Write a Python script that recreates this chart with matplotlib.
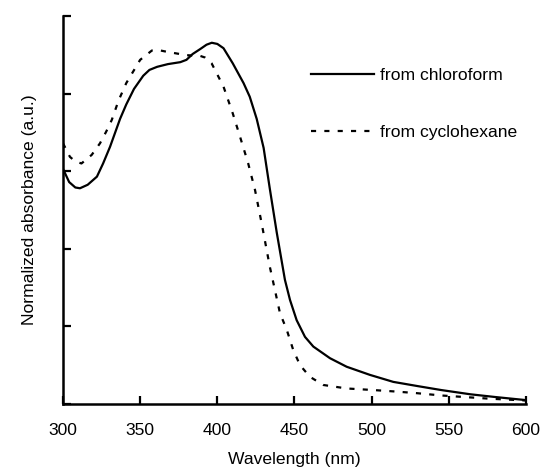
import matplotlib
matplotlib.use("Agg")
import matplotlib.pyplot as plt

plt.rcParams['font.family'] = ['Liberation Sans', 'DejaVu Sans']

# chloroform (solid)
wl_chloro = [300, 304, 308, 311, 316, 322, 326, 330.5, 337, 341, 346, 352, 356, 361, 368, 376, 380, 384,
             389, 393, 396.4, 400, 404, 410, 417, 421, 425.5, 430, 434, 438.5, 443.8, 447.1, 451.4, 456.8,
             462.2, 473, 483.8, 498.9, 514, 530, 545, 564, 580, 600]
ab_chloro = [0.606, 0.572, 0.558, 0.556, 0.565, 0.586, 0.620, 0.663, 0.735, 0.772, 0.812, 0.846, 0.861,
             0.869, 0.876, 0.881, 0.887, 0.902, 0.915, 0.926, 0.931, 0.928, 0.917, 0.878, 0.827, 0.792,
             0.735, 0.660, 0.555, 0.442, 0.320, 0.268, 0.216, 0.173, 0.148, 0.118, 0.096, 0.075, 0.057,
             0.046, 0.036, 0.025, 0.018, 0.010]

# cyclohexane (dashed)
wl_cyclo = [300, 304.5, 308, 312, 318.6, 324, 328, 331.6, 336, 341, 350, 357.6, 362, 367, 380, 389, 392,
            396.3, 404, 410, 414.7, 420, 424.4, 428.7, 434, 440.6, 445, 449.2, 453.6, 460, 468.7, 483.8,
            501, 516, 529, 545, 575, 600]
ab_cyclo = [0.672, 0.637, 0.625, 0.620, 0.642, 0.672, 0.702, 0.732, 0.782, 0.827, 0.887, 0.911, 0.912,
            0.908, 0.899, 0.897, 0.893, 0.878, 0.818, 0.749, 0.689, 0.620, 0.552, 0.466, 0.354, 0.234,
            0.191, 0.139, 0.100, 0.070, 0.049, 0.040, 0.036, 0.032, 0.028, 0.022, 0.014, 0.009]

xticks = [300, 350, 400, 450, 500, 550, 600]
yticks = [0.0, 0.2, 0.4, 0.6, 0.8, 1.0]

fig = plt.figure(figsize=(5.42, 4.69), dpi=100)
ax = fig.add_axes([0.1162, 0.1386, 0.9705 - 0.1162, 0.9659 - 0.1386])

ax.plot(wl_chloro, ab_chloro, color='black', lw=1.6, label='from chloroform')
ax.plot(wl_cyclo, ab_cyclo, color='black', lw=1.6, dashes=(2.3, 3.7), label='from cyclohexane')

ax.set_xlim(300, 600)
ax.set_ylim(0, 1.0)
ax.set_xticks(xticks)
ax.set_yticks(yticks)
ax.set_yticklabels([])
ax.tick_params(direction='in', length=6, width=1.6, labelsize=12.6, pad=14)
for s in ['top', 'right']:
    ax.spines[s].set_visible(False)
for s in ['left', 'bottom']:
    ax.spines[s].set_linewidth(1.8)

ax.set_xlabel('Wavelength (nm)', fontsize=12.6, labelpad=10)
ax.set_ylabel('Normalized absorbance (a.u.)', fontsize=12.6, labelpad=5)

leg = ax.legend(loc='upper left', bbox_to_anchor=(0.517, 0.889), frameon=False, fontsize=12.6,
                handlelength=3.6, handletextpad=0.36, labelspacing=2.4, borderpad=0)

fig.savefig('out.png', dpi=100)
